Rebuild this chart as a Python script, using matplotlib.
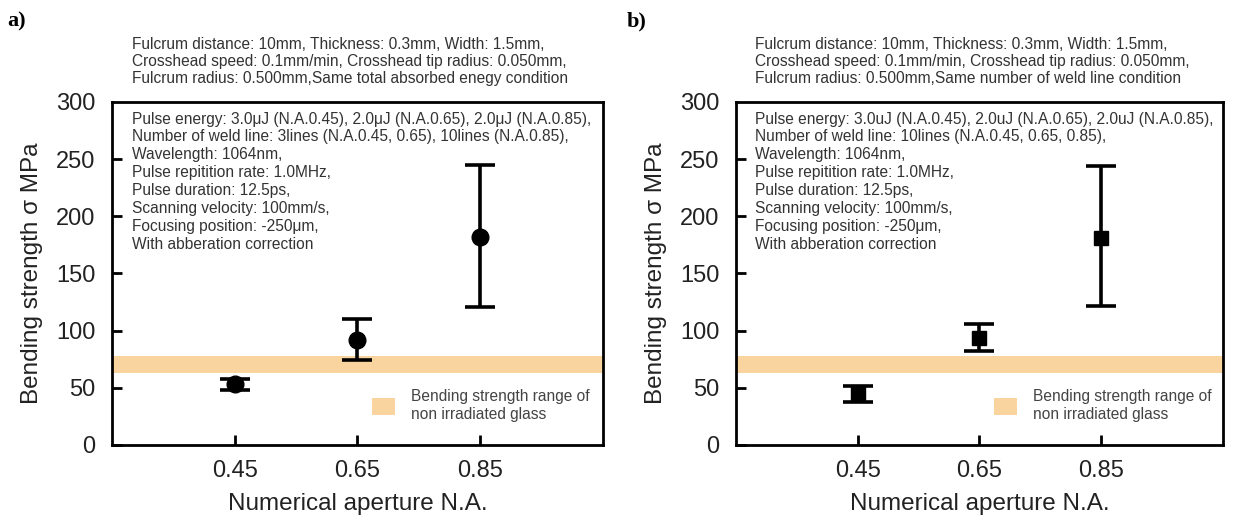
import matplotlib.pyplot as plt
from matplotlib.patches import Patch

plt.rcParams['font.family'] = ['Liberation Sans', 'DejaVu Sans']

# ------------------------ Data ------------------------
na = [0.45, 0.65, 0.85]
na_labels = ['0.45', '0.65', '0.85']

# a) same total absorbed energy condition
strength_a = [53, 92, 182]
err_low_a = [5, 18, 61]
err_high_a = [5, 18, 63]

# b) same number of weld line condition
strength_b = [45, 94, 181]
err_low_b = [7, 12, 59]
err_high_b = [7, 12, 63]

# bending strength range of non irradiated glass
glass_low, glass_high = 63, 78

yticks = [0, 50, 100, 150, 200, 250, 300]

top_a = ("Fulcrum distance: 10mm, Thickness: 0.3mm, Width: 1.5mm,\n"
         "Crosshead speed: 0.1mm/min, Crosshead tip radius: 0.050mm,\n"
         "Fulcrum radius: 0.500mm,Same total absorbed enegy condition")
top_b = ("Fulcrum distance: 10mm, Thickness: 0.3mm, Width: 1.5mm,\n"
         "Crosshead speed: 0.1mm/min, Crosshead tip radius: 0.050mm,\n"
         "Fulcrum radius: 0.500mm,Same number of weld line condition")
box_a = ("Pulse energy: 3.0\u03bcJ (N.A.0.45), 2.0\u03bcJ (N.A.0.65), 2.0\u03bcJ (N.A.0.85),\n"
         "Number of weld line: 3lines (N.A.0.45, 0.65), 10lines (N.A.0.85),\n"
         "Wavelength: 1064nm,\n"
         "Pulse repitition rate: 1.0MHz,\n"
         "Pulse duration: 12.5ps,\n"
         "Scanning velocity: 100mm/s,\n"
         "Focusing position: -250\u03bcm,\n"
         "With abberation correction")
box_b = ("Pulse energy: 3.0uJ (N.A.0.45), 2.0uJ (N.A.0.65), 2.0uJ (N.A.0.85),\n"
         "Number of weld line: 10lines (N.A.0.45, 0.65, 0.85),\n"
         "Wavelength: 1064nm,\n"
         "Pulse repitition rate: 1.0MHz,\n"
         "Pulse duration: 12.5ps,\n"
         "Scanning velocity: 100mm/s,\n"
         "Focusing position: -250\u03bcm,\n"
         "With abberation correction")

band_color = '#f9d49e'
txt_color = '#333333'

# ------------------------ Figure ------------------------
fig = plt.figure(figsize=(12.33, 5.27), dpi=100)
ax_a = fig.add_axes([0.0908, 0.1556, 0.3982, 0.6509])
ax_b = fig.add_axes([0.5969, 0.1556, 0.3950, 0.6509])


def draw_panel(ax, vals, lo, hi, marker, msize, top_txt, box_txt):
    ax.axhspan(glass_low, glass_high, color=band_color, lw=0, zorder=1)
    ax.errorbar(na, vals, yerr=[lo, hi], fmt=marker, color='black',
                markersize=msize, elinewidth=2.6, capsize=11, capthick=2.6,
                zorder=3)
    ax.set_xlim(0.25, 1.05)
    ax.set_ylim(0, 300)
    ax.set_xticks(na)
    ax.set_xticklabels(na_labels)
    ax.set_yticks(yticks)
    ax.tick_params(axis='both', direction='in', length=7, width=2,
                   labelsize=17, labelcolor='#222222')
    ax.tick_params(axis='x', pad=11)
    ax.tick_params(axis='y', pad=12)
    # no tick mark at 300 (box top)
    ax.yaxis.get_major_ticks()[-1].tick1line.set_visible(False)
    for s in ax.spines.values():
        s.set_linewidth(2)
    ax.set_xlabel('Numerical aperture N.A.', fontsize=17.5, color='#222222',
                  labelpad=8)
    ax.set_ylabel('Bending strength \u03c3 MPa', fontsize=17.5,
                  color='#222222', labelpad=9)
    ax.text(0.04, 0.972, box_txt, transform=ax.transAxes, ha='left',
            va='top', fontsize=11.2, color=txt_color, linespacing=1.24)
    ax.text(0.04, 1.048, top_txt, transform=ax.transAxes, ha='left',
            va='bottom', fontsize=11.2, color=txt_color, linespacing=1.16,
            clip_on=False)
    handle = Patch(facecolor=band_color, edgecolor='none')
    ax.legend([handle], ['Bending strength range of\nnon irradiated glass'],
              loc='lower left', bbox_to_anchor=(0.517, 0.05),
              frameon=False, fontsize=11.2, labelcolor='#444444',
              handlelength=1.5, handleheight=1.3, handletextpad=1.0,
              borderaxespad=0)


draw_panel(ax_a, strength_a, err_low_a, err_high_a, 'o', 12, top_a, box_a)
draw_panel(ax_b, strength_b, err_low_b, err_high_b, 's', 10, top_b, box_b)

fig.text(0.006, 0.978, 'a)', fontsize=16, fontweight='bold',
         family='Liberation Serif', va='top')
fig.text(0.508, 0.978, 'b)', fontsize=16, fontweight='bold',
         family='Liberation Serif', va='top')

fig.savefig('out.png', dpi=100)
